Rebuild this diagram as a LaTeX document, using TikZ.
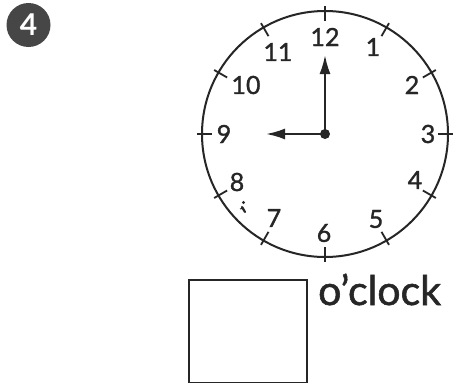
\documentclass[tikz,border=0pt]{standalone}
\usepackage{fontspec}
\setmainfont{Lato}
\newfontfamily\medfont{Lato}[FakeBold=1.4]
\usetikzlibrary{arrows.meta,calc}
\definecolor{ink}{HTML}{262626}
\definecolor{badge}{HTML}{464646}
\begin{document}
\begin{tikzpicture}[x=1pt,y=-1pt,
  rim/.style={draw=ink,line width=2pt},
  tick/.style={draw=ink,line width=1.8pt},
  num/.style={text=ink,font=\medfont\fontsize{25}{25}\selectfont,inner sep=0pt},
  hand/.style={draw=ink,line width=2.2pt,-{Latex[length=19pt,width=11pt]}},
]
\useasboundingbox (0,0) rectangle (456,383);
\fill[white] (0,0) rectangle (456,383);
% badge
\node[circle,fill=badge,minimum size=44pt,inner sep=0pt,text=white,
  font=\fontsize{30}{30}\selectfont\bfseries] (badge) at (28.5,25) {4};
% clock
\coordinate (c) at (325,134);
\draw[rim] (c) circle[radius=123];
\foreach \a in {0,30,...,330}
  \draw[tick] ($(c)+(\a:113)$) -- ($(c)+(\a:128)$);
\node[num] (n12) at (325,37) {12};
\node[num] (n1) at (373,47) {1};
\node[num] (n2) at (412,85) {2};
\node[num] (n3) at (428,134) {3};
\node[num] (n4) at (415,180) {4};
\node[num] (n5) at (376,219) {5};
\node[num] (n6) at (324,233) {6};
\node[num] (n7) at (274,218) {7};
\node[num] (n8) at (237,182) {8};
\node[num] (n9) at (224,134) {9};
\node[num] (n10) at (246,85) {10};
\node[num] (n11) at (278,52) {11};
\coordinate (mtip) at (325,55);
\coordinate (htip) at (266,134);
\draw[hand] (c) -- (mtip);
\draw[hand] (c) -- (htip);
\fill[ink] (c) circle[radius=5];
% small mark near 8
\fill[ink] (243.5,202.5) circle[radius=1.6];
\draw[ink,line width=2.2pt,line cap=round] (242,207) -- (245,212);
\draw[ink,line width=1pt] (240,209) -- (244,208);
% answer box
\node[draw=ink,line width=2pt,minimum width=118pt,minimum height=103pt,inner sep=0pt,anchor=north west] (box) at (188,279) {};
\node[text=ink,font=\medfont\fontsize{41}{41}\selectfont,anchor=base west,inner sep=0pt] (oclock) at (318,305) {o’clock};
\end{tikzpicture}
\end{document}
